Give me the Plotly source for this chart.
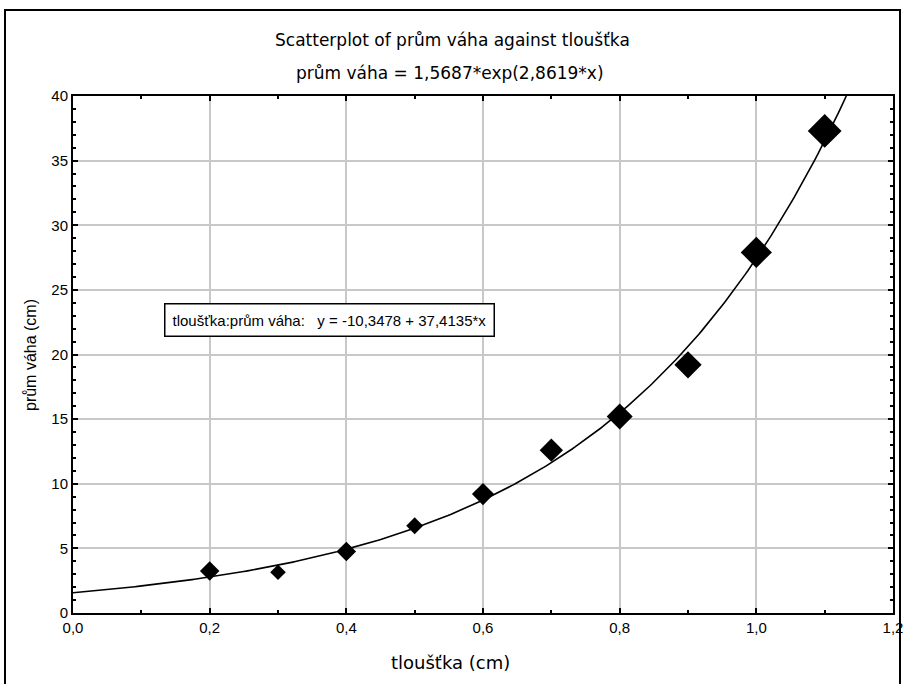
import numpy as np
import plotly.graph_objects as go

# Data
tloustka = [0.2, 0.3, 0.4, 0.5, 0.6, 0.7, 0.8, 0.9, 1.0, 1.1]
prum_vaha = [3.25, 3.15, 4.75, 6.75, 9.2, 12.6, 15.2, 19.2, 27.9, 37.3]
marker_sizes = [15, 12, 15, 13, 17, 18, 20, 21, 24, 26]

fit_a = 1.5687
fit_b = 2.8619
x_max_fit = np.log(40 / fit_a) / fit_b
xf = np.linspace(0, x_max_fit, 300)
yf = fit_a * np.exp(fit_b * xf)

FONT = "Liberation Sans, Arial, sans-serif"
WIDE = "DejaVu Sans, sans-serif"

fig = go.Figure()
fig.add_trace(go.Scatter(x=xf, y=yf, mode="lines",
                         line=dict(color="black", width=1.6),
                         showlegend=False, hoverinfo="skip"))
fig.add_trace(go.Scatter(x=tloustka, y=prum_vaha, mode="markers",
                         marker=dict(symbol="diamond", color="black", opacity=1,
                                     size=marker_sizes, line=dict(width=0)),
                         showlegend=False))

L, R, T, B = 73, 10, 96, 71
W, H = 903, 684
pw, ph = W - L - R, H - T - B

def px(x):
    return (x - L) / pw

def py(y):
    return (H - B - y) / ph

fig.update_layout(
    width=W, height=H,
    margin=dict(l=L, r=R, t=T, b=B, autoexpand=False),
    paper_bgcolor="white", plot_bgcolor="white",
    separators=", ",
    font=dict(family=FONT, color="black", size=15),
    xaxis=dict(range=[0, 1.2], dtick=0.2, tickformat=".1f", automargin=False,
               ticklabeloverflow="allow",
               showgrid=True, gridcolor="#c8c8c8", gridwidth=1.5,
               showline=True, linecolor="black", linewidth=2, mirror="allticks",
               ticks="inside", ticklen=5, tickcolor="black", tickwidth=1.5,
               minor=dict(dtick=0.1, ticks="inside", ticklen=3, tickcolor="black", showgrid=False),
               zeroline=False, tickfont=dict(size=15, family=FONT)),
    yaxis=dict(range=[0, 40], dtick=5, automargin=False,
               ticklabeloverflow="allow",
               showgrid=True, gridcolor="#c8c8c8", gridwidth=1.5,
               showline=True, linecolor="black", linewidth=2, mirror="allticks",
               ticks="inside", ticklen=5, tickcolor="black", tickwidth=1.5,
               minor=dict(dtick=1, ticks="inside", ticklen=3, tickcolor="black", showgrid=False),
               zeroline=False, tickfont=dict(size=15, family=FONT)),
    shapes=[dict(type="rect", xref="paper", yref="paper",
                 x0=px(5), x1=px(900), y0=py(10), y1=py(700),
                 line=dict(color="black", width=2), fillcolor="rgba(0,0,0,0)", layer="above")],
    annotations=[
        dict(xref="paper", yref="paper", x=px(452), y=py(40), text="Scatterplot of prům váha against tloušťka",
             showarrow=False, font=dict(size=17, family=WIDE), xanchor="center", yanchor="middle"),
        dict(xref="paper", yref="paper", x=px(450), y=py(73), text="prům váha = 1,5687*exp(2,8619*x)",
             showarrow=False, font=dict(size=17, family=WIDE), xanchor="center", yanchor="middle"),
        dict(xref="paper", yref="paper", x=px(450), y=py(662), text="tloušťka (cm)",
             showarrow=False, font=dict(size=18, family=WIDE), xanchor="center", yanchor="middle"),
        dict(xref="paper", yref="paper", x=px(30), y=py(355), text="prům váha (cm)", textangle=-90,
             showarrow=False, font=dict(size=16, family=FONT), xanchor="center", yanchor="middle"),
        dict(xref="paper", yref="paper", x=px(164), y=py(320),
             text="tloušťka:prům váha:   y = -10,3478 + 37,4135*x",
             showarrow=False, font=dict(size=15, family=FONT), xanchor="left", yanchor="middle",
             bgcolor="white", bordercolor="black", borderwidth=1.5, borderpad=7),
    ],
)

fig.write_html("out.html")
